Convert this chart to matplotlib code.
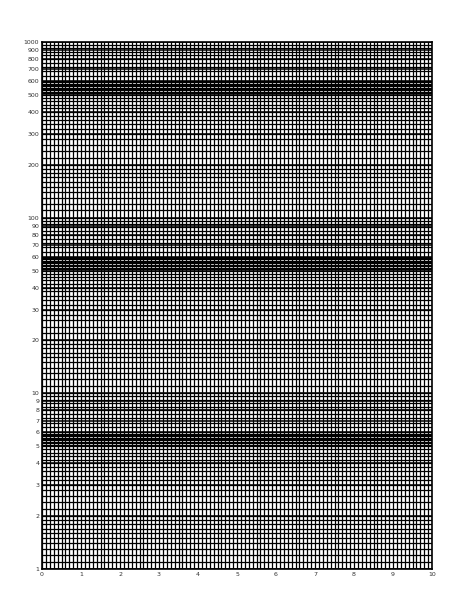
import numpy as np
import matplotlib.pyplot as plt
from matplotlib.ticker import FixedLocator

x_ticks = list(range(0, 11))
y_labels = [1, 2, 3, 4, 5, 6, 7, 8, 9, 10, 20, 30, 40, 50, 60, 70, 80, 90, 100,
            200, 300, 400, 500, 600, 700, 800, 900, 1000]
# minor subdivisions within a decade
decade_minor = ([1.0 + 0.1 * i for i in range(10)] + [2.0 + 0.2 * i for i in range(15)] +
                [5.0 + 0.1 * i for i in range(10)] + [6.0 + 0.4 * i for i in range(10)])

fig = plt.figure(figsize=(4.74, 6.12), dpi=100)
ax = fig.add_axes([42 / 474, 43 / 612, 390 / 474, 527 / 612])
ax.set_xlim(0, 10)
ax.set_yscale("log")
ax.set_ylim(1, 1000)

xminor = np.arange(0, 10.001, 0.1)
yminor = [m * 10 ** d for d in range(3) for m in decade_minor]
for v in xminor:
    ax.axvline(v, color="black", lw=0.9)
for v in yminor:
    ax.axhline(v, color="black", lw=0.9)
for v in y_labels:
    ax.axhline(v, color="black", lw=1.1)

ax.xaxis.set_major_locator(FixedLocator(x_ticks))
ax.yaxis.set_major_locator(FixedLocator(y_labels))
ax.yaxis.set_minor_locator(FixedLocator([]))
ax.set_yticklabels([str(v) for v in y_labels])
ax.tick_params(length=0, labelsize=4.5, pad=2, colors="#333333")
for s in ax.spines.values():
    s.set_linewidth(1.2)

fig.savefig("out.png", dpi=100)
